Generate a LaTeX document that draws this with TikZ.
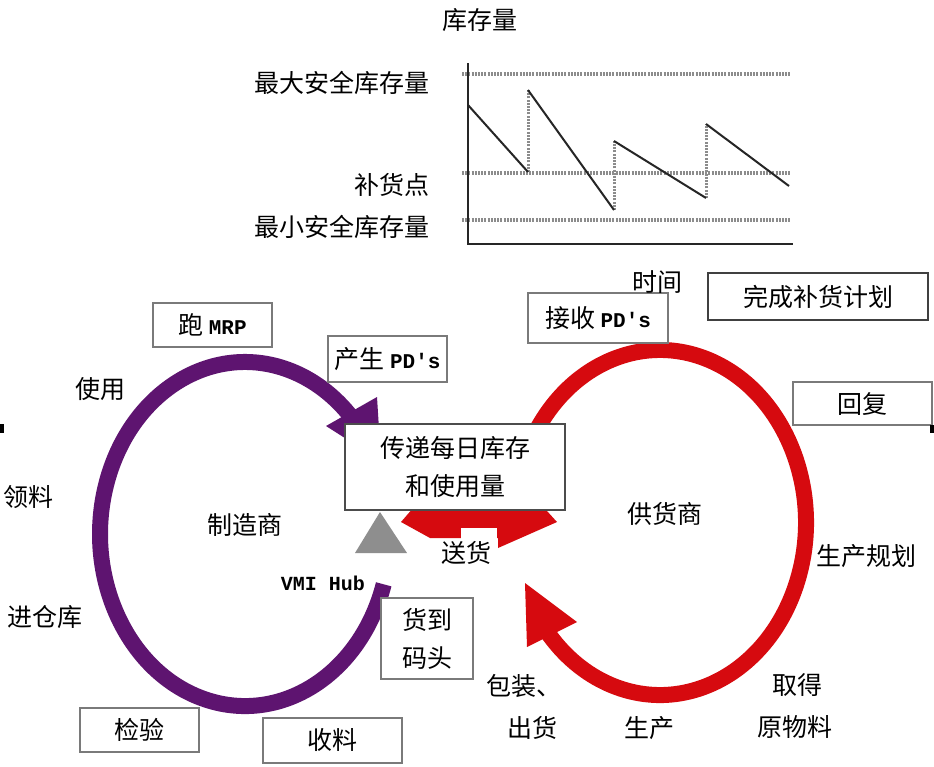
\documentclass[tikz,border=0pt]{standalone}
\usepackage{fontspec}
\setmainfont{Noto Sans CJK SC}
\newfontfamily\hubfont{Liberation Mono}
\definecolor{vpurple}{HTML}{5E1470}
\definecolor{vred}{HTML}{D60A0F}
\definecolor{boxgray}{HTML}{7A7A7A}
\definecolor{dotgray}{HTML}{8C8C8C}
\definecolor{trigray}{HTML}{8E8E8E}
\newcommand{\lat}[1]{{\hubfont\bfseries\fontsize{21}{25}\selectfont #1}}
\tikzset{
  txt/.style={inner sep=0pt, font=\fontsize{25}{31}\selectfont, align=center},
  boxn/.style={draw=boxgray, line width=1.6pt, fill=white, inner sep=0pt,
    font=\fontsize{25}{38}\selectfont, align=center},
  refline/.style={dotgray, line width=3.5pt, dash pattern=on 2pt off 1.2pt},
  riseline/.style={dotgray, line width=3pt, dash pattern=on 2pt off 1.2pt},
  saw/.style={black!85, line width=2pt},
  axisline/.style={black!85, line width=2.2pt},
  loopline/.style={line width=16pt}
}
\begin{document}
\begin{tikzpicture}[x=1pt,y=-1pt]
\useasboundingbox (0,0) rectangle (934,766);
\fill[white] (0,0) rectangle (934,766);

% ---------- inventory chart ----------
\node[txt] (title) at (480,20) {库存量};
\node[txt, anchor=east] (maxl) at (430,83) {最大安全库存量};
\node[txt, anchor=east] (reord) at (430,185) {补货点};
\node[txt, anchor=east] (minl) at (430,227) {最小安全库存量};

\draw[refline] (462,74) -- (790,74);
\draw[refline] (462,173) -- (790,173);
\draw[refline] (462,220) -- (790,220);

\draw[riseline] (528,172) -- (528,90);
\draw[riseline] (614,210) -- (614,141);
\draw[riseline] (706,198) -- (706,124);
\draw[saw] (468,105) -- (528,172);
\draw[saw] (528,90) -- (614,210);
\draw[saw] (614,141) -- (706,198);
\draw[saw] (706,124) -- (789,186);

\draw[axisline] (468,63) -- (468,244) -- (793,244);

% ---------- loops ----------
\draw[vpurple, loopline] (383.7,584.3) arc[start angle=17, end angle=318, x radius=145, y radius=172];
\fill[vpurple] (377,397) -- (326,426) -- (381,461) -- cycle;

\draw[vred, loopline] (522.8,463.5) arc[start angle=200, end angle=501, x radius=146, y radius=172.5];
\fill[vred] (525,583) -- (577,622) -- (527,647) -- cycle;

% double arrow (delivery)
\fill[vred] (401,522) -- (430,538) -- (498,538) -- (498,548) -- (557,522)
  -- (537,500) -- (420,500) -- cycle;
\fill[white] (461,528) rectangle (497,549);

% VMI hub triangle
\fill[trigray] (380,512) -- (355,553) -- (407,553) -- cycle;

% ---------- boxes ----------
\node[boxn, minimum width=119, minimum height=44] (mrp) at (212.5,325) {跑 \lat{MRP}};
\node[boxn, minimum width=119, minimum height=46] (genpo) at (387.5,359) {产生 \lat{PD's}};
\node[boxn, minimum width=140, minimum height=50] (recpo) at (598,318) {接收 \lat{PD's}};
\node[boxn, draw=black!75, line width=2pt, minimum width=220, minimum height=47] (plan) at (818,296.5) {完成补货计划};
\node[boxn, minimum width=139, minimum height=43] (reply) at (862.5,403.5) {回复};
\node[boxn, draw=black!70, minimum width=220, minimum height=86] (trans) at (455,467) {传递每日库存\\和使用量};
\node[boxn, minimum width=92, minimum height=81] (dock) at (427,638.5) {货到\\码头};
\node[boxn, minimum width=119, minimum height=44] (insp) at (139.5,730) {检验};
\node[boxn, minimum width=139, minimum height=45] (recv) at (332.5,740.5) {收料};

% ---------- free labels ----------
\node[txt] (time) at (657,282) {时间};
\node[txt] (use) at (100,389) {使用};
\node[txt] (pick) at (28,497) {领料};
\node[txt] (store) at (45,617) {进仓库};
\node[txt] (mfr) at (245,525) {制造商};
\node[inner sep=0pt, font=\hubfont\bfseries\fontsize{20}{24}\selectfont] (hub) at (323,583) {VMI Hub};
\node[txt] (sup) at (665,514) {供货商};
\node[txt] (ship) at (466,553) {送货};
\node[txt] (pplan) at (866,556) {生产规划};
\node[txt] (pack) at (524,686) {包装、};
\node[txt] (out) at (532,728) {出货};
\node[txt] (prod) at (649,728) {生产};
\node[txt] (get) at (797,685) {取得};
\node[txt] (raw) at (795,727) {原物料};

% edge ticks
\fill[black] (0,424) rectangle (4,433);
\fill[black] (930,425) rectangle (934,433);
\end{tikzpicture}
\end{document}
